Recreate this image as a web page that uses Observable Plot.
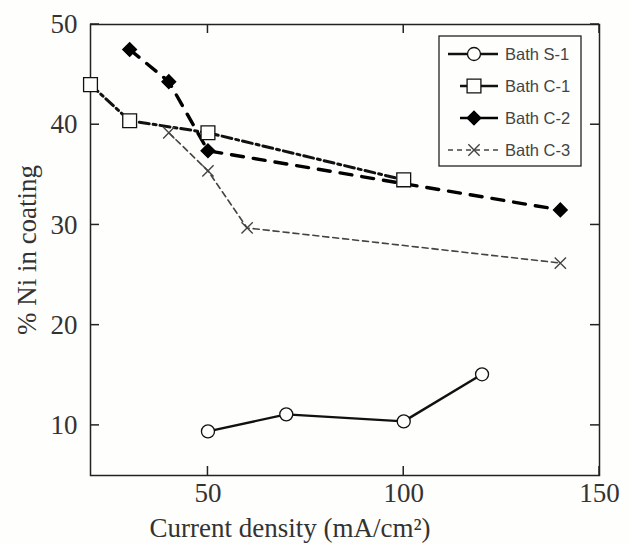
<!DOCTYPE html>
<html>
<head>
<meta charset="utf-8">
<script src="https://cdn.jsdelivr.net/npm/d3@7"></script>
<script src="https://cdn.jsdelivr.net/npm/@observablehq/plot@0.6"></script>
<style>
  html, body { margin: 0; padding: 0; background: #fefefc; }
</style>
</head>
<body>
<div id="chart"></div>
<script>
// ---- data ----
const seriesNames = ["Bath S-1", "Bath C-1", "Bath C-2", "Bath C-3"];
const currentS1 = [50, 70, 100, 120];
const niS1 = [9.4, 11.1, 10.4, 15.1];
const currentC1 = [20, 30, 50, 100];
const niC1 = [44.0, 40.4, 39.2, 34.5];
const currentC2 = [30, 40, 50, 140];
const niC2 = [47.5, 44.3, 37.4, 31.5];
const currentC3 = [40, 50, 60, 140];
const niC3 = [39.2, 35.4, 29.7, 26.2];
const xTicks = [50, 100, 150];
const yTicks = [10, 20, 30, 40, 50];
const xLabel = "Current density (mA/cm²)";
const yLabel = "% Ni in coating";

const toRows = (xs, ys, name) => xs.map((x, i) => ({x, y: ys[i], name}));
const rows = [
  toRows(currentS1, niS1, seriesNames[0]),
  toRows(currentC1, niC1, seriesNames[1]),
  toRows(currentC2, niC2, seriesNames[2]),
  toRows(currentC3, niC3, seriesNames[3])
];

// styles per series
const styles = [
  {symbol: "circle",   r: 6.5, fill: "#fefefc", stroke: "#111", strokeWidth: 2.4, dash: null,        lineColor: "#111"},
  {symbol: "square",   r: 7.8, fill: "#fefefc", stroke: "#111", strokeWidth: 3.0, dash: "10,4,3,4",  lineColor: "#111"},
  {symbol: "diamond2", r: 6.2, fill: "#000",    stroke: "#000", strokeWidth: 3.4, dash: "12,10",     lineColor: "#000"},
  {symbol: "times",    r: 5.2, fill: "none",    stroke: "#444", strokeWidth: 1.6, dash: "6,4",       lineColor: "#444"}
];

const lineMarks = rows.map((d, i) => Plot.line(d, {
  x: "x", y: "y", stroke: styles[i].lineColor, strokeWidth: styles[i].strokeWidth,
  strokeDasharray: styles[i].dash, strokeLinejoin: "round"
}));
const dotMarks = rows.map((d, i) => Plot.dot(d, {
  x: "x", y: "y", symbol: () => styles[i].symbol, r: styles[i].r,
  fill: styles[i].fill, stroke: styles[i].stroke, strokeWidth: i === 3 ? 1.4 : 1.3
}));

// inward tick marks on all four sides, placed with the plot's own scales
function inwardTicks(index, scales, values, dim) {
  const L = dim.marginLeft, R = dim.width - dim.marginRight;
  const T = dim.marginTop, B = dim.height - dim.marginBottom;
  const len = 9;
  const g = d3.create("svg:g").attr("stroke", "#222").attr("stroke-width", 1.5);
  xTicks.forEach(v => {
    const px = scales.x(v);
    g.append("line").attr("x1", px).attr("x2", px).attr("y1", B).attr("y2", B - len);
    g.append("line").attr("x1", px).attr("x2", px).attr("y1", T).attr("y2", T + len);
  });
  yTicks.forEach(v => {
    const py = scales.y(v);
    g.append("line").attr("y1", py).attr("y2", py).attr("x1", L).attr("x2", L + len);
    g.append("line").attr("y1", py).attr("y2", py).attr("x1", R).attr("x2", R - len);
  });
  return g.node();
}

// legend drawn inside the frame (top-right)
function legendMark(index, scales, values, dim) {
  const right = dim.width - dim.marginRight;
  const top = dim.marginTop;
  const bx = right - 160, by = top + 12, bw = 142, bh = 130;
  const g = d3.create("svg:g");
  g.append("rect").attr("x", bx).attr("y", by).attr("width", bw).attr("height", bh)
    .attr("fill", "#fefefc").attr("stroke", "#222").attr("stroke-width", 1.3);
  seriesNames.forEach((name, i) => {
    const s = styles[i];
    const cy = by + 18 + i * 32;
    const x0 = (i === 1 || i === 2) ? bx + 21 : bx + 9;
    const x1 = bx + 59, cx = bx + 35;
    g.append("line").attr("x1", x0).attr("x2", x1).attr("y1", cy).attr("y2", cy)
      .attr("stroke", s.lineColor).attr("stroke-width", i === 3 ? 1.6 : 2.4)
      .attr("stroke-dasharray", i === 3 ? "5,4" : null);
    const symType = {circle: d3.symbolCircle, square: d3.symbolSquare, diamond2: d3.symbolDiamond2, times: d3.symbolTimes}[s.symbol];
    g.append("path").attr("transform", `translate(${cx},${cy})`)
      .attr("d", d3.symbol(symType, Math.PI * s.r * s.r)())
      .attr("fill", s.fill).attr("stroke", s.stroke).attr("stroke-width", i === 3 ? 1.4 : 1.3);
    g.append("text").attr("x", bx + 66).attr("y", cy).attr("dy", "0.35em")
      .attr("text-anchor", "start")
      .attr("font-family", "Liberation Sans, Arial, sans-serif").attr("font-size", 16.5)
      .attr("fill", "#444").text(name);
  });
  return g.node();
}

const chart = Plot.plot({
  width: 629,
  height: 544,
  marginLeft: 90,
  marginTop: 24,
  marginRight: 30,
  marginBottom: 69,
  style: {background: "#fefefc", fontFamily: "Liberation Serif, Times New Roman, serif", fontSize: "27px", color: "#333"},
  x: {domain: [20, 150]},
  y: {domain: [5, 50]},
  marks: [
    Plot.frame({stroke: "#222", strokeWidth: 1.5}),
    Plot.axisX(xTicks, {anchor: "bottom", tickSize: 0, tickPadding: 7, label: null, fontSize: 27}),
    Plot.axisY(yTicks, {anchor: "left", tickSize: 0, tickPadding: 13, label: null, fontSize: 27}),
    inwardTicks,
    ...lineMarks,
    ...dotMarks,
    Plot.text([xLabel], {frameAnchor: "bottom-left", text: d => d, textAnchor: "start", lineAnchor: "middle", dx: 59, dy: 53, fontSize: 27, fill: "#333"}),
    Plot.text([yLabel], {frameAnchor: "left", text: d => d, rotate: -90, textAnchor: "middle", lineAnchor: "middle", dx: -63, fontSize: 27, fill: "#333"}),
    legendMark
  ]
});
document.getElementById("chart").appendChild(chart);
</script>
</body>
</html>
